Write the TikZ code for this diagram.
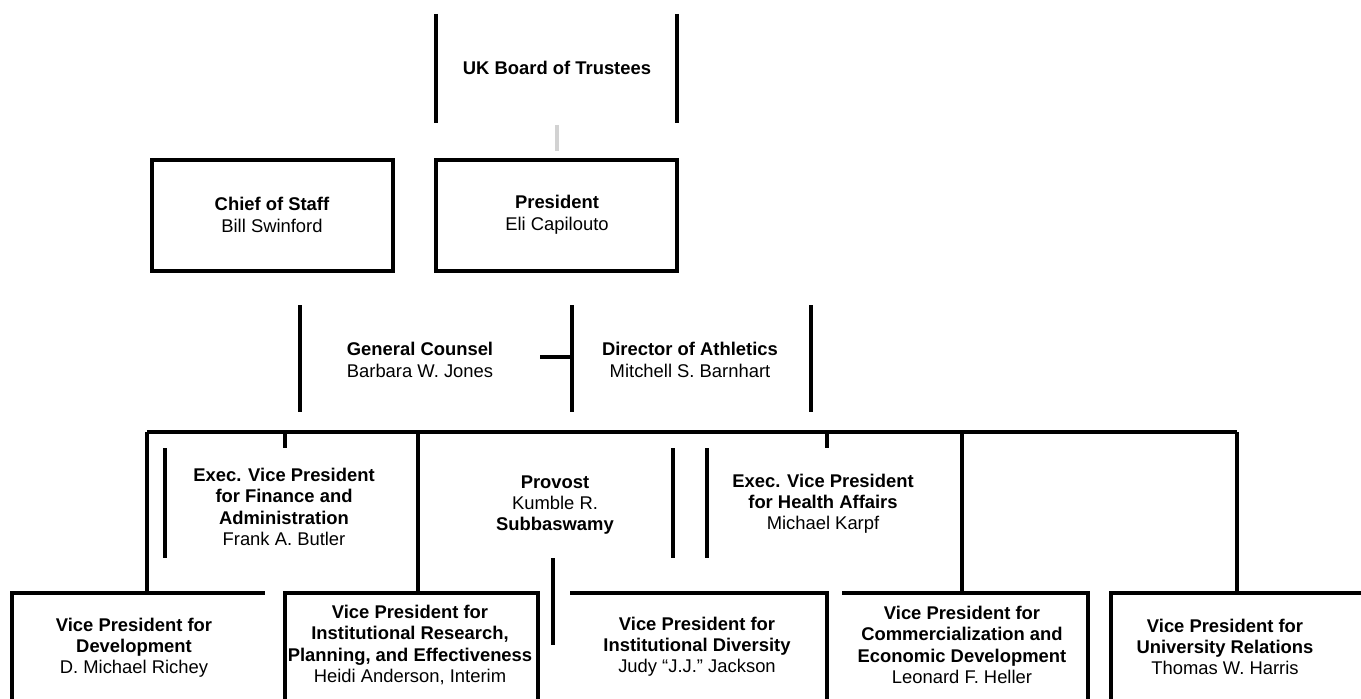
\documentclass[tikz,border=0pt]{standalone}
\usepackage{fontspec}
\setmainfont{Liberation Sans}
\begin{document}
\begin{tikzpicture}[x=0.75pt,y=-0.75pt,
  ln/.style={line width=2.4pt, line cap=butt},
  faint/.style={line width=2.4pt, draw=gray!35},
  txt/.style={align=center, inner sep=0pt, font=\fontsize{13.8}{16.5}\selectfont},
  txtb/.style={align=center, inner sep=0pt, font=\fontsize{13.8}{15.9}\selectfont}]
\useasboundingbox (0,0) rectangle (1361,699);
\clip (0,0) rectangle (1361,699);
\fill[white] (0,0) rectangle (1361,699);

% ---- level 1
\node[txt] (board) at (557,68) {\textbf{UK Board of Trustees}};
\draw[ln] (436,14) -- (436,123);
\draw[ln] (677,14) -- (677,123);
\coordinate (bd) at (557,125);
\coordinate (bdend) at (557,151);
\draw[faint] (bd) -- (bdend);

% ---- level 2
\node[txt] (cos) at (272,215) {\textbf{Chief of Staff}\\Bill Swinford};
\node[txt] (pres) at (557,215) {\textbf{President}\\Eli Capilouto};
\draw[ln] (152,160) rectangle (393,271);
\draw[ln] (436,160) rectangle (677,271);

% ---- level 2.5
\node[txt] (gc) at (420,360) {\textbf{General Counsel}\\Barbara W. Jones};
\node[txt] (ath) at (690,360) {\textbf{Director of Athletics}\\Mitchell S. Barnhart};
\draw[ln] (300,305) -- (300,412);
\draw[ln] (572,305) -- (572,412);
\draw[ln] (811,305) -- (811,412);
\draw[ln] (540,357) -- (572,357);

% ---- level 3
\node[txtb] (evpf) at (284,507) {\textbf{Exec. Vice President}\\\textbf{for Finance and}\\\textbf{Administration}\\Frank A. Butler};
\node[txtb] (prov) at (555,505) {\textbf{Provost}\\Kumble R.\\\textbf{Subbaswamy}};
\node[txtb] (evph) at (823,504) {\textbf{Exec. Vice President}\\\textbf{for Health Affairs}\\Michael Karpf};
\draw[ln] (147,432) -- (1237,432);
\draw[ln] (147,432) -- (147,593);
\draw[ln] (285,432) -- (285,448);
\draw[ln] (418,432) -- (418,593);
\draw[ln] (827,432) -- (827,448);
\draw[ln] (962,432) -- (962,593);
\draw[ln] (1237,432) -- (1237,593);
\draw[ln] (165,448) -- (165,558);
\draw[ln] (673,448) -- (673,558);
\draw[ln] (707,448) -- (707,558);
\draw[ln] (553,558) -- (553,645);

% ---- bottom row
\node[txtb] (dev) at (134,648) {\textbf{Vice President for}\\\textbf{Development}\\D. Michael Richey};
\node[txtb] (ir) at (410,645) {\textbf{Vice President for}\\\textbf{Institutional Research,}\\\textbf{Planning, and Effectiveness}\\Heidi Anderson, Interim};
\node[txtb] (div) at (697,647) {\textbf{Vice President for}\\\textbf{Institutional Diversity}\\Judy ``J.J.'' Jackson};
\node[txtb] (comm) at (962,645) {\textbf{Vice President for}\\\textbf{Commercialization and}\\\textbf{Economic Development}\\Leonard F. Heller};
\node[txtb] (ur) at (1225,647) {\textbf{Vice President for}\\\textbf{University Relations}\\Thomas W. Harris};

\draw[ln] (12,720) -- (12,593) -- (265,593);
\draw[ln] (285,720) -- (285,593) -- (538,593) -- (538,720);
\draw[ln] (570,593) -- (827,593) -- (827,720);
\draw[ln] (842,593) -- (1088,593) -- (1088,720);
\draw[ln] (1111,720) -- (1111,593) -- (1380,593);
\end{tikzpicture}
\end{document}
